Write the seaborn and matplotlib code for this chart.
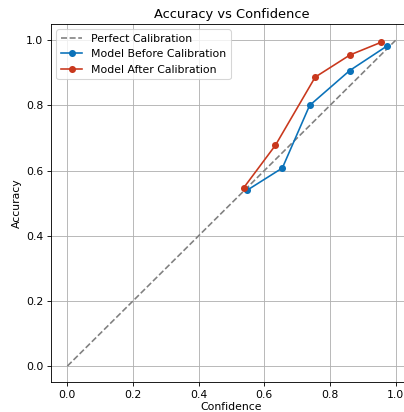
import numpy as np
import pandas as pd
import matplotlib
matplotlib.use('Agg')
import matplotlib.pyplot as plt
import seaborn as sns

# dados
perfect = [0.0, 1.0]
conf_before = [0.548, 0.655, 0.738, 0.860, 0.973]
acc_before = [0.540, 0.608, 0.800, 0.907, 0.982]
conf_after = [0.537, 0.634, 0.755, 0.861, 0.956]
acc_after = [0.547, 0.678, 0.887, 0.955, 0.994]

df_before = pd.DataFrame({'Confidence': conf_before, 'Accuracy': acc_before})
df_after = pd.DataFrame({'Confidence': conf_after, 'Accuracy': acc_after})

DPI = 78
fig = plt.figure(figsize=(404 / DPI, 412 / DPI), dpi=DPI)
ax = fig.add_axes([0.1262, 0.072, 0.8936, 0.8697])

ax.plot(perfect, perfect, linestyle='--', color='gray', label='Perfect Calibration')
sns.lineplot(x='Confidence', y='Accuracy', data=df_before, sort=False, marker='o',
             markersize=6.5, markeredgewidth=0, color='#0b72b9', label='Model Before Calibration', ax=ax)
sns.lineplot(x='Confidence', y='Accuracy', data=df_after, sort=False, marker='o',
             markersize=6.5, markeredgewidth=0, color='#c9381d', label='Model After Calibration', ax=ax)

ax.set_xlim(-0.05, 1.05)
ax.set_ylim(-0.05, 1.05)
ax.set_xticks([0.0, 0.2, 0.4, 0.6, 0.8, 1.0])
ax.set_yticks([0.0, 0.2, 0.4, 0.6, 0.8, 1.0])
ax.set_title('Accuracy vs Confidence')
ax.set_xlabel('Confidence', labelpad=1.5)
ax.set_ylabel('Accuracy')
ax.grid(True)
ax.legend(loc='upper left')

fig.savefig('out.png', dpi=DPI)
